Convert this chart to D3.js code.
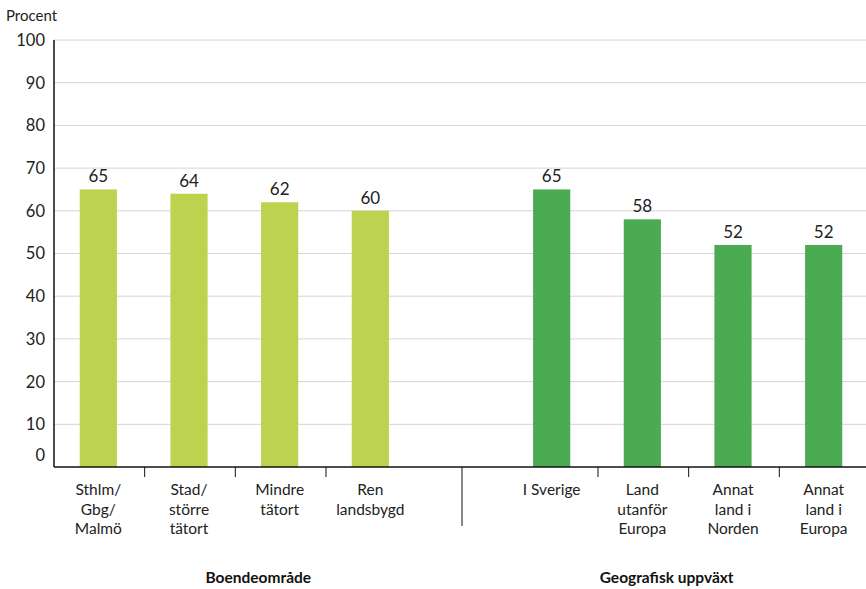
<!DOCTYPE html>
<html>
<head>
<meta charset="utf-8">
<script src="https://cdn.jsdelivr.net/npm/d3@7"></script>
<style>
  html, body { margin: 0; padding: 0; background: #fff; }
  svg { display: block; font-family: "Lato", "Open Sans", sans-serif; }
</style>
</head>
<body>
<svg id="chart" width="866" height="589"></svg>
<script>
// Share (percent) by residential area and by where respondents grew up
const groupTitles = ["Boendeområde", "Geografisk uppväxt"];
const areaLabels = [["Sthlm/", "Gbg/", "Malmö"], ["Stad/", "större", "tätort"], ["Mindre", "tätort"], ["Ren", "landsbygd"]];
const areaValues = [65, 64, 62, 60];
const originLabels = [["I Sverige"], ["Land", "utanför", "Europa"], ["Annat", "land i", "Norden"], ["Annat", "land i", "Europa"]];
const originValues = [65, 58, 52, 52];
const yTicks = [0, 10, 20, 30, 40, 50, 60, 70, 80, 90, 100];

const colors = ["#bdd24e", "#4aab52"];

const rows = [
  ...areaValues.map((v, i) => ({ key: "a" + i, group: 0, value: v, label: areaLabels[i] })),
  { key: "gap", group: -1, value: null, label: [] },
  ...originValues.map((v, i) => ({ key: "o" + i, group: 1, value: v, label: originLabels[i] }))
];

const svg = d3.select("#chart");
const plotLeft = 54, plotRight = 870, plotTop = 40, plotBottom = 467;

const x = d3.scaleBand().domain(rows.map(d => d.key)).range([plotLeft, plotRight]).paddingInner(0).paddingOuter(0);
const y = d3.scaleLinear().domain([0, 100]).range([plotBottom, plotTop]);
const barW = x.bandwidth() * 0.41;

// grid lines
svg.append("g").selectAll("line").data(yTicks.filter(t => t > 0)).join("line")
  .attr("x1", plotLeft).attr("x2", 866)
  .attr("y1", d => y(d)).attr("y2", d => y(d))
  .attr("stroke", "#d4d4d4").attr("stroke-width", 1);

// y tick labels
svg.append("g").selectAll("text").data(yTicks).join("text")
  .attr("x", 45)
  .attr("y", d => d === 0 ? y(d) - 12 : y(d))
  .attr("dy", "0.36em")
  .attr("text-anchor", "end")
  .attr("font-size", 16.5)
  .attr("fill", "#222")
  .text(d => d);

svg.append("text").attr("x", 6).attr("y", 21).attr("font-size", 15).attr("fill", "#222").text("Procent");

// bars
const bars = rows.filter(d => d.value !== null);
svg.append("g").selectAll("rect").data(bars).join("rect")
  .attr("x", d => x(d.key) + x.bandwidth() / 2 - barW / 2 - 1)
  .attr("width", barW)
  .attr("y", d => y(d.value))
  .attr("height", d => y(0) - y(d.value))
  .attr("fill", d => colors[d.group]);

// value labels
svg.append("g").selectAll("text").data(bars).join("text")
  .attr("x", d => x(d.key) + x.bandwidth() / 2 - 1)
  .attr("y", d => y(d.value) - 7)
  .attr("text-anchor", "middle")
  .attr("font-size", 17)
  .attr("fill", "#222")
  .text(d => d.value);

// axes lines
svg.append("line").attr("x1", plotLeft).attr("x2", plotLeft).attr("y1", plotTop).attr("y2", plotBottom)
  .attr("stroke", "#111").attr("stroke-width", 1.5);
svg.append("line").attr("x1", plotLeft).attr("x2", 866).attr("y1", plotBottom).attr("y2", plotBottom)
  .attr("stroke", "#111").attr("stroke-width", 1.5);

// small ticks between categories within each group
const tickPos = [1, 2, 3, 6, 7, 8].map(i => x(rows[i].key));
svg.append("g").selectAll("line").data(tickPos).join("line")
  .attr("x1", d => d).attr("x2", d => d)
  .attr("y1", plotBottom).attr("y2", plotBottom + 10)
  .attr("stroke", "#111").attr("stroke-width", 1);

// separator between the two groups
const sepX = x("gap") + x.bandwidth() / 2;
svg.append("line").attr("x1", sepX).attr("x2", sepX).attr("y1", plotBottom).attr("y2", plotBottom + 59)
  .attr("stroke", "#111").attr("stroke-width", 1);

// category labels
const catG = svg.append("g").selectAll("text").data(bars).join("text")
  .attr("text-anchor", "middle")
  .attr("font-size", 15.5)
  .attr("fill", "#222");
catG.each(function(d) {
  const t = d3.select(this);
  d.label.forEach((line, i) => {
    t.append("tspan")
      .attr("x", x(d.key) + x.bandwidth() / 2 - 1)
      .attr("y", 495 + i * 19.5)
      .text(line);
  });
});

// group titles
const g1 = (x("a1") + x("a3")) / 2 + 23;
const g2 = (x("o1") + x("o3")) / 2 - 22;
svg.append("g").selectAll("text").data(groupTitles).join("text")
  .attr("x", (d, i) => i === 0 ? g1 : g2)
  .attr("y", 583)
  .attr("text-anchor", "middle")
  .attr("font-size", 15.5)
  .attr("font-weight", "bold")
  .attr("fill", "#111")
  .text(d => d);
</script>
</body>
</html>
